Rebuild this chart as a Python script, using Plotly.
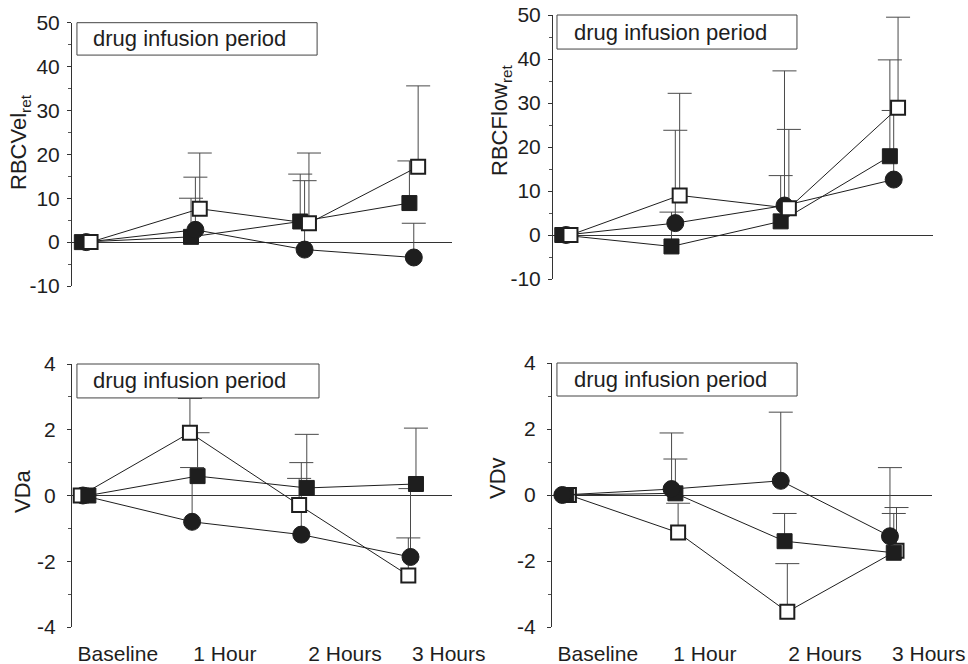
import plotly.graph_objects as go

# ---------------- data ----------------
time_idx = [0, 1, 2, 3]
tick_labels = ["Baseline", "1 Hour", "2 Hours", "3 Hours"]

vel_ticks = [-10, 0, 10, 20, 30, 40, 50]
vel_tick_text = ["-10", "0", "10", "20", "30", "40", "50"]
vd_ticks = [-4, -2, 0, 2, 4]
vd_tick_text = ["-4", "-2", "0", "2", "4"]

# RBCVel_ret
vel_open = [0, 7.6, 4.3, 17.2]
vel_open_err = [0, 12.7, 16.0, 18.4]
vel_fsq = [0, 1.2, 4.7, 8.9]
vel_fsq_err = [0, 8.8, 10.8, 9.6]
vel_circ = [0, 2.8, -1.7, -3.5]
vel_circ_err = [0, 12.0, 15.7, 7.8]

# RBCFlow_ret
flow_open = [0, 9.0, 6.1, 28.9]
flow_open_err = [0, 23.2, 17.9, 20.6]
flow_fsq = [0, -2.6, 3.1, 17.9]
flow_fsq_err = [0, 7.8, 10.4, 21.9]
flow_circ = [0, 2.7, 6.7, 12.6]
flow_circ_err = [0, 21.1, 30.6, 15.7]

# VDa
vda_open = [0, 1.91, -0.29, -2.43]
vda_open_err = [0, 1.04, 0.81, 1.14]
vda_fsq = [0, 0.59, 0.23, 0.35]
vda_fsq_err = [0, 1.32, 1.63, 1.70]
vda_circ = [0, -0.80, -1.19, -1.87]
vda_circ_err = [0, 1.65, 2.19, 2.08]

# VDv
vdv_open = [0, -1.14, -3.54, -1.69]
vdv_open_err = [0, 0.89, 1.46, 1.31]
vdv_fsq = [0, 0.05, -1.40, -1.75]
vdv_fsq_err = [0, 1.04, 0.84, 1.19]
vdv_circ = [0, 0.18, 0.43, -1.25]
vdv_circ_err = [0, 1.70, 2.08, 2.08]

box_text = "drug infusion period"

# ---------------- styling ----------------
FONT = "Liberation Sans, Arial, Helvetica, sans-serif"
INK = "#1e1e1e"
W, H = 968, 664
XRANGE = [-0.12, 3.36]
CAP = 0.11  # half-width of error-bar caps (x units)


def fx(px):
    return px / W


def fy(px):
    return 1 - px / H


panels = [
    dict(key="1", title="RBCVel<sub>ret</sub>", tpos=(20, 142), xdom=(72, 452), ydom=(286, 22.7),
         yrange=[-10, 50], tv=vel_ticks, tt=vel_tick_text, minor=5, labels=False, lstand=3,
         series=[(vel_fsq, vel_fsq_err, "fsq", -0.03), (vel_circ, vel_circ_err, "circ", 0.01),
                 (vel_open, vel_open_err, "open", 0.05)],
         box=(0.013, 0.645, 0.877), tx=0.05),
    dict(key="2", title="RBCFlow<sub>ret</sub>", tpos=(501, 120), xdom=(553, 933), ydom=(279, 15),
         yrange=[-10, 50], tv=vel_ticks, tt=vel_tick_text, minor=5, labels=False, lstand=3,
         series=[(flow_fsq, flow_fsq_err, "fsq", -0.035), (flow_circ, flow_circ_err, "circ", 0.0),
                 (flow_open, flow_open_err, "open", 0.04)],
         box=(0.0105, 0.642, 0.871), tx=0.05),
    dict(key="3", title="VDa", tpos=(22, 491), xdom=(72, 452), ydom=(627, 364),
         yrange=[-4, 4], tv=vd_ticks, tt=vd_tick_text, minor=1, labels=True, lstand=7,
         series=[(vda_circ, vda_circ_err, "circ", -0.02), (vda_open, vda_open_err, "open", -0.04),
                 (vda_fsq, vda_fsq_err, "fsq", 0.03)],
         box=(0.013, 0.650, 0.871), tx=0.05),
    dict(key="4", title="VDv", tpos=(497, 478), xdom=(552, 932), ydom=(627, 363),
         yrange=[-4, 4], tv=vd_ticks, tt=vd_tick_text, minor=1, labels=True, lstand=7,
         series=[(vdv_open, vdv_open_err, "open", 0.035), (vdv_fsq, vdv_fsq_err, "fsq", 0.01),
                 (vdv_circ, vdv_circ_err, "circ", -0.025)],
         box=(0.013, 0.645, 0.875), tx=0.053),
]

marker_styles = {
    "open": dict(symbol="square", size=14, color="white", line=dict(color=INK, width=2)),
    "fsq": dict(symbol="square", size=15, color=INK, line=dict(color=INK, width=1)),
    "circ": dict(symbol="circle", size=17, color=INK, line=dict(color=INK, width=1)),
}

label_pos = [0.30, 1.28, 2.38, 3.33]

fig = go.Figure()
layout = dict(
    width=W, height=H, autosize=False, margin=dict(l=0, r=0, t=0, b=0, pad=0),
    paper_bgcolor="white", plot_bgcolor="white", showlegend=False,
    font=dict(family=FONT, size=21, color=INK),
)
shapes, annotations = [], []

for p in panels:
    k = p["key"]
    xa = "x" + ("" if k == "1" else k)
    ya = "y" + ("" if k == "1" else k)
    # error bars (upper side only) drawn first, behind the symbols
    for vals, errs, kind, off in p["series"]:
        ex, ey = [], []
        for t, v, e in zip(time_idx, vals, errs):
            if e <= 0:
                continue
            xc = t + off
            ex += [xc, xc, None, xc - CAP, xc + CAP, None]
            ey += [v, v + e, None, v + e, v + e, None]
        fig.add_trace(go.Scatter(x=ex, y=ey, xaxis=xa, yaxis=ya, mode="lines",
                                 line=dict(color="#4a4a4a", width=1), hoverinfo="skip",
                                 cliponaxis=False))
    for vals, errs, kind, off in p["series"]:
        fig.add_trace(go.Scatter(
            x=[t + off for t in time_idx], y=vals, xaxis=xa, yaxis=ya,
            mode="lines+markers",
            line=dict(color=INK, width=1),
            marker=marker_styles[kind],
            cliponaxis=False,
        ))
    xname = "xaxis" + ("" if k == "1" else k)
    yname = "yaxis" + ("" if k == "1" else k)
    xa_d = dict(
        domain=[fx(p["xdom"][0]), fx(p["xdom"][1])], range=XRANGE, automargin=False,
        anchor=ya, showline=False, showgrid=False, zeroline=False, fixedrange=True,
    )
    if p["labels"]:
        xa_d.update(tickvals=label_pos, ticktext=tick_labels, ticks="outside", ticklen=8,
                    tickcolor="rgba(0,0,0,0)", tickfont=dict(size=21, color=INK))
    else:
        xa_d.update(showticklabels=False, ticks="")
    layout[xname] = xa_d
    layout[yname] = dict(
        domain=[fy(p["ydom"][0]), fy(p["ydom"][1])], range=p["yrange"], automargin=False,
        anchor=xa, showline=True, linecolor="#333333", linewidth=1,
        showgrid=False, zeroline=True, zerolinecolor="#333333", zerolinewidth=1,
        tickvals=p["tv"], ticktext=p["tt"], ticks="outside", ticklen=4, tickcolor="#333333",
        ticklabelstandoff=p["lstand"],
        minor=dict(dtick=p["minor"], ticks="outside", ticklen=3, tickcolor="#555555"),
        tickfont=dict(size=21, color=INK), fixedrange=True,
    )
    annotations.append(dict(text=p["title"], xref="paper", yref="paper",
                            x=fx(p["tpos"][0]), y=fy(p["tpos"][1]), xanchor="center",
                            yanchor="middle", textangle=-90, showarrow=False,
                            font=dict(size=22, color=INK)))
    bx0, bx1, by0 = p["box"]
    shapes.append(dict(type="rect", xref=xa + " domain", yref=ya + " domain",
                       x0=bx0, x1=bx1, y0=by0, y1=1.0,
                       line=dict(color="#444444", width=1), fillcolor="white", layer="above"))
    annotations.append(dict(text=box_text, xref=xa + " domain", yref=ya + " domain",
                            x=p["tx"], y=(by0 + 1.0) / 2, xanchor="left", yanchor="middle",
                            showarrow=False, font=dict(size=22, color=INK)))

layout["shapes"] = shapes
layout["annotations"] = annotations
fig.update_layout(**layout)
fig.write_html(
    "out.html",
    config={"displayModeBar": False},
    post_script="document.body.style.margin='0';document.documentElement.style.overflow='hidden';",
)
